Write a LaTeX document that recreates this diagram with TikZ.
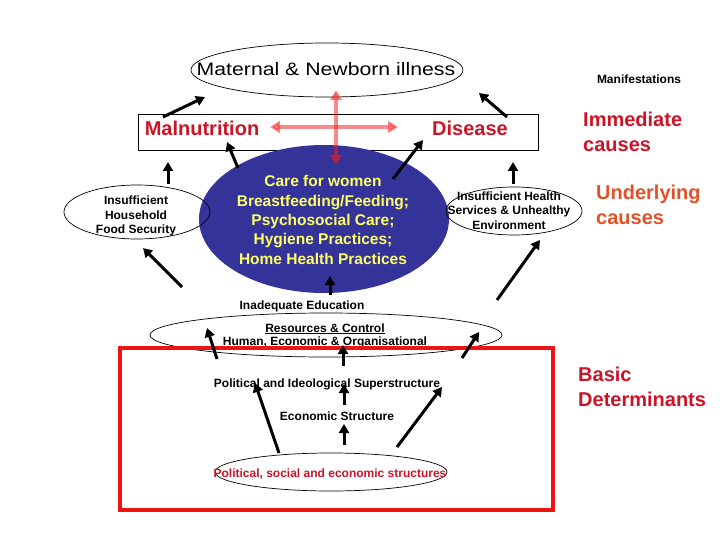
\documentclass[tikz,border=0pt]{standalone}
\usepackage{fontspec}
\setmainfont{Liberation Sans}
\usetikzlibrary{arrows.meta,shapes.geometric}
\definecolor{lblred}{RGB}{204,20,40}
\definecolor{lblorange}{RGB}{226,82,40}
\definecolor{boxred}{RGB}{238,20,20}
\definecolor{careblue}{RGB}{51,51,153}
\definecolor{careyellow}{RGB}{255,255,102}
\definecolor{pinkarrow}{RGB}{240,30,30}
\begin{document}
\begin{tikzpicture}[x=1pt,y=-1pt,
  oval/.style={ellipse,draw=black,line width=0.7pt,inner sep=0pt},
  small/.style={font=\fontsize{12}{14.5}\selectfont\bfseries,align=center,inner sep=0pt},
  smallb/.style={font=\fontsize{12}{14.5}\selectfont\bfseries,inner sep=0pt,anchor=base},
  big/.style={font=\fontsize{20}{25}\selectfont\bfseries,align=left,inner sep=0pt,anchor=north west},
  redlbl/.style={font=\fontsize{20}{25}\selectfont\bfseries,text=lblred,inner sep=0pt,anchor=base},
  blk/.style={line width=3pt,-{Triangle[length=9pt,width=10pt]}},
  pinkarr/.style={draw=pinkarrow,fill=pinkarrow,opacity=0.5,line width=4pt,{Triangle[length=10pt,width=12pt]}-{Triangle[length=10pt,width=12pt]}}
]
\useasboundingbox (0,0) rectangle (720,540);
\fill[white] (0,0) rectangle (720,540);

% top ellipse
\node[oval,minimum width=272pt,minimum height=54pt] (mat) at (327,70) {};
\node[inner sep=0pt,anchor=base,font=\fontsize{18}{20}\selectfont] (matt) at (326,76) {\scalebox{1.18}[1]{Maternal \& Newborn illness}};

% immediate causes box
\node[draw=black,line width=0.7pt,minimum width=400pt,minimum height=36pt,inner sep=0pt] (box) at (338,132) {};
\node[redlbl] (maln) at (202,136) {Malnutrition};
\node[redlbl] (dis) at (470,136) {Disease};

% care ellipse
\node[ellipse,fill=careblue,minimum width=250pt,minimum height=148pt,inner sep=0pt] (care) at (324,219) {};
\node[font=\fontsize{15.5}{19.3}\selectfont\bfseries,text=careyellow,align=center,inner sep=0pt] (caret) at (323,220)
  {Care for women\\Breastfeeding/Feeding;\\Psychosocial Care;\\Hygiene Practices;\\Home Health Practices};

% pink cross (translucent)
\coordinate (ph1) at (270,127);
\coordinate (ph2) at (398,127);
\coordinate (pv1) at (336,90);
\coordinate (pv2) at (336,165);
\draw[pinkarr] (ph1) -- (ph2);
\draw[pinkarr] (pv1) -- (pv2);

% underlying ellipses
\node[oval,minimum width=146pt,minimum height=54pt] (food) at (137,212) {};
\node[small] (foodt) at (136,216) {Insufficient\\Household\\Food Security};
\node[oval,minimum width=136pt,minimum height=48pt] (hlth) at (514,211) {};
\node[small] (hltht) at (509,210.5) {Insufficient Health\\Services \& Unhealthy\\Environment};

% right labels
\node[smallb] (manif) at (639,84) {Manifestations};
\node[big,text=lblred] (imm) at (583,112) {Immediate\\causes};
\node[big,text=lblorange] (und) at (596,185) {Underlying\\causes};
\node[big,text=lblred] (basic) at (578,367) {Basic\\Determinants};

% resources
\node[smallb] (edu) at (302,309) {Inadequate Education};
\node[oval,minimum width=352pt,minimum height=44pt] (res) at (326,335) {};
\node[smallb] (rest1) at (325,332) {\underline{Resources \& Control}};
\node[smallb] (rest2) at (325,345) {Human, Economic \& Organisational};

% basic determinants
\draw[boxred,line width=4pt] (120,348) rectangle (553,510);
\node[smallb] (pis) at (327,387) {Political and Ideological Superstructure};
\node[smallb] (eco) at (337,420) {Economic Structure};
\node[oval,minimum width=232pt,minimum height=38pt] (pse) at (331,472) {};
\node[smallb,text=lblred] (pset) at (330,477) {Political, social and economic structures};

% black arrows
\foreach \n/\ax/\ay/\bx/\by in {
  1/163/117/205/97, 2/507/117/479/93, 3/238/168/227/142, 4/393/179/423/140,
  5/168/184/168/162, 6/513/184/513/162, 7/182/287/143/248, 8/497/300/540/240,
  9/330/295/330/276, 10/217/359/207/328, 11/462/358/479/332, 12/343/366/343/345,
  13/279/453/255/383, 14/397/447/442/387, 15/344/445/344/424, 16/344/405/344/384} {
  \coordinate (t\n) at (\ax,\ay);
  \coordinate (h\n) at (\bx,\by);
  \draw[blk] (t\n) -- (h\n);
}
\end{tikzpicture}
\end{document}
